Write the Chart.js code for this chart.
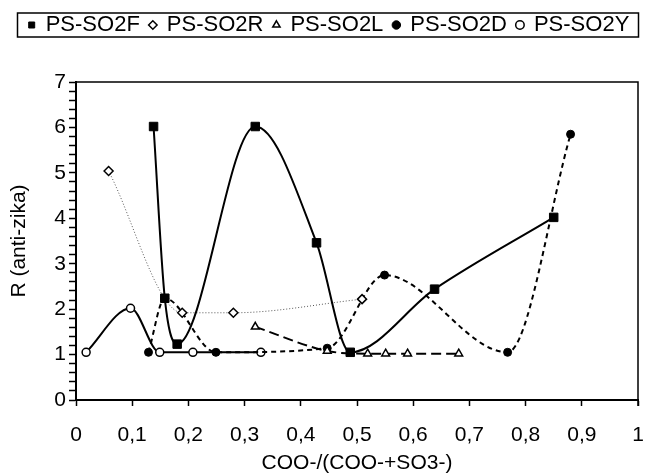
<!DOCTYPE html>
<html><head><meta charset="utf-8">
<script src="https://cdn.jsdelivr.net/npm/chart.js@4/dist/chart.umd.min.js"></script>
<style>html,body{margin:0;padding:0;background:#fff}</style>
</head><body>
<canvas id="c" width="645" height="476"></canvas>
<script>
const seriesNames = ['PS-SO2F', 'PS-SO2R', 'PS-SO2L', 'PS-SO2D', 'PS-SO2Y'];

const xF = [0.138, 0.158, 0.180, 0.319, 0.428, 0.488, 0.638, 0.850];
const yF = [6.02, 2.24, 1.23, 6.02, 3.46, 1.05, 2.44, 4.02];

const xR = [0.058, 0.189, 0.280, 0.509];
const yR = [5.04, 1.92, 1.92, 2.22];

const xL = [0.319, 0.447, 0.519, 0.551, 0.590, 0.681];
const yL = [1.61, 1.08, 1.02, 1.02, 1.02, 1.02];

const xD = [0.129, 0.158, 0.249, 0.447, 0.549, 0.768, 0.880];
const yD = [1.05, 2.24, 1.05, 1.14, 2.75, 1.05, 5.85];

const xY = [0.018, 0.097, 0.149, 0.208, 0.329];
const yY = [1.05, 2.02, 1.05, 1.05, 1.05];

const xTickStep = 0.1;
const yMinorStep = 0.2;
const xTitle = 'COO-/(COO-+SO3-)';
const yTitle = 'R (anti-zika)';

const FONT = '"Liberation Sans", Arial, sans-serif';
const toPts = (xs, ys) => xs.map((v, i) => ({x: v, y: ys[i]}));

const datasets = [
  {label: seriesNames[0], data: toPts(xF, yF), borderColor: '#000', borderWidth: 2,
   pointStyle: 'rect', pointRadius: 6, pointBackgroundColor: '#000', pointBorderColor: '#000', pointBorderWidth: 1},
  {label: seriesNames[1], data: toPts(xR, yR), borderColor: '#555', borderWidth: 1, borderDash: [1, 2],
   pointStyle: 'rectRot', pointRadius: 4.5, pointBackgroundColor: '#fff', pointBorderColor: '#000', pointBorderWidth: 1.5},
  {label: seriesNames[2], data: toPts(xL, yL), borderColor: '#000', borderWidth: 2, borderDash: [10, 5],
   pointStyle: 'triangle', pointRadius: 4.5, pointBackgroundColor: '#fff', pointBorderColor: '#000', pointBorderWidth: 1.5},
  {label: seriesNames[3], data: toPts(xD, yD), borderColor: '#000', borderWidth: 2, borderDash: [5, 4],
   pointStyle: 'circle', pointRadius: 4, pointBackgroundColor: '#000', pointBorderColor: '#000', pointBorderWidth: 1},
  {label: seriesNames[4], data: toPts(xY, yY), borderColor: '#000', borderWidth: 2,
   pointStyle: 'circle', pointRadius: 4, pointBackgroundColor: '#fff', pointBorderColor: '#000', pointBorderWidth: 1.5}
].map(d => Object.assign({showLine: true, cubicInterpolationMode: 'monotone', fill: false}, d));

const frame = {
  id: 'frame',
  afterInit(chart) {
    const lg = chart.legend;
    const orig = lg.fit;
    lg.fit = function () { orig.call(this); this.height = 78; };
  },
  afterDraw(chart) {
    const {ctx, chartArea: a} = chart;
    ctx.save();
    ctx.strokeStyle = '#000';
    ctx.lineWidth = 1.5;
    ctx.beginPath();
    ctx.moveTo(a.left, a.top); ctx.lineTo(a.right, a.top); ctx.lineTo(a.right, a.bottom + 6);
    ctx.stroke();
    const hb = chart.legend.legendHitBoxes;
    if (hb && hb.length) {
      const top = Math.min(...hb.map(h => h.top));
      const bot = Math.max(...hb.map(h => h.top + h.height));
      ctx.strokeRect(chart.legend.left + 0.5, top - 1, a.right - chart.legend.left, bot - top + 2);
    }
    ctx.restore();
  }
};

new Chart(document.getElementById('c'), {
  type: 'scatter',
  data: {datasets},
  plugins: [frame],
  options: {
    responsive: false,
    animation: false,
    layout: {padding: {left: 17, right: 4, top: 4, bottom: 0}},
    plugins: {
      legend: {
        position: 'top',
        labels: {
          usePointStyle: true, boxWidth: 6, boxHeight: 6, padding: 10,
          color: '#000', font: {family: FONT, size: 22}
        }
      },
      tooltip: {enabled: false}
    },
    scales: {
      x: {
        type: 'linear', min: 0, max: 1,
        afterFit(s) { s.height = 76; s.paddingLeft = 0; s.paddingRight = 0; },
        ticks: {stepSize: xTickStep, autoSkip: false, color: '#000', padding: 17, maxRotation: 0,
          font: {family: FONT, size: 21},
          callback: v => (Math.abs(v) < 1e-9 ? '0' : Math.abs(v - 1) < 1e-9 ? '1' : v.toFixed(1).replace('.', ','))},
        grid: {drawOnChartArea: false, drawTicks: true, tickLength: 6, tickColor: '#000', tickWidth: 1.5},
        border: {display: true, color: '#000', width: 2},
        title: {display: true, text: xTitle, color: '#000', font: {family: FONT, size: 21}, padding: {top: 0, bottom: 0}}
      },
      y: {
        type: 'linear', min: 0, max: 7,
        afterFit(s) { s.width = 59; },
        ticks: {stepSize: yMinorStep, autoSkip: false, color: '#000', padding: 3,
          font: {family: FONT, size: 21},
          callback: v => (Math.abs(v - Math.round(v)) < 1e-6 ? String(Math.round(v)) : '')},
        grid: {drawOnChartArea: false, drawTicks: true, tickLength: 7, tickColor: '#000', tickWidth: 1.5},
        border: {display: true, color: '#000', width: 2},
        title: {display: true, text: yTitle, color: '#000', font: {family: FONT, size: 21}, padding: {top: -10, bottom: 0}}
      }
    }
  }
});
</script>
</body></html>
